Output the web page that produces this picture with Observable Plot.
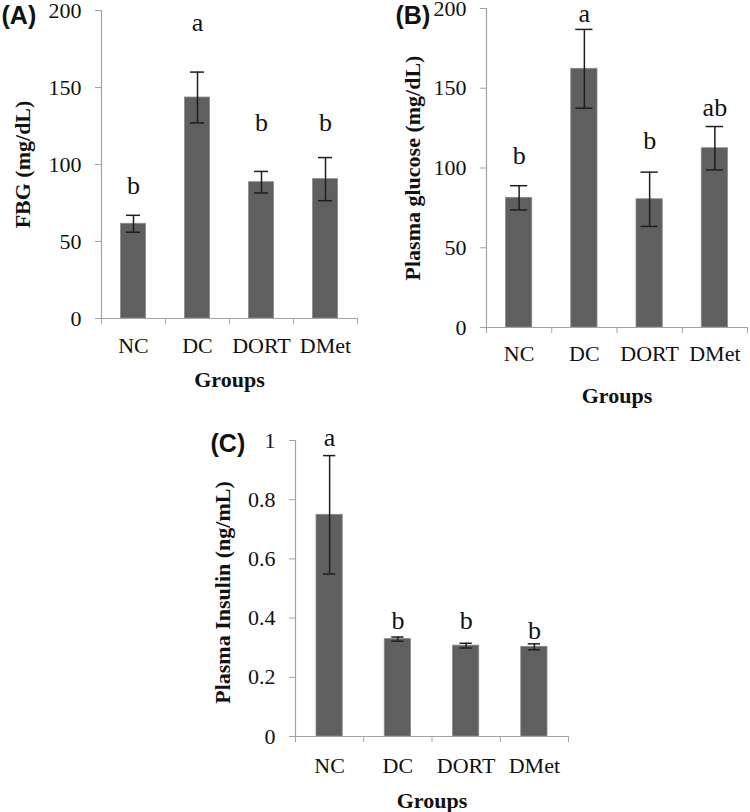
<!DOCTYPE html>
<html><head><meta charset="utf-8">
<script src="https://cdn.jsdelivr.net/npm/d3@7"></script>
<script src="https://cdn.jsdelivr.net/npm/@observablehq/plot@0.6"></script>
<style>
body{margin:0;background:#fff;}
#wrap{position:relative;width:750px;height:812px;overflow:hidden;background:#fff;}
.panel{position:absolute;}
</style></head><body><div id="wrap"></div>
<script>
// ---- data ----
const groups = ["NC", "DC", "DORT", "DMet"];

const fbgMean = [61.5, 143.5, 88.5, 90.5];
const fbgErr = [5.5, 16.5, 7, 14];
const fbgLetters = ["b", "a", "b", "b"];
const fbgLetterY = [86, 192, 127, 127];
const fbgTicks = [0, 50, 100, 150, 200];

const gluMean = [81.3, 162.2, 80.4, 112.4];
const gluErr = [7.6, 24.7, 17, 13.6];
const gluLetters = ["b", "a", "b", "ab"];
const gluLetterY = [108, 197, 117, 138];
const gluTicks = [0, 50, 100, 150, 200];

const insMean = [0.749, 0.329, 0.307, 0.303];
const insErr = [0.2, 0.007, 0.008, 0.01];
const insLetters = ["a", "b", "b", "b"];
const insLetterY = [1.01, 0.392, 0.392, 0.358];
const insTicks = [0, 0.2, 0.4, 0.6, 0.8, 1];

// ---- drawing ----
const serif = "'Liberation Serif','Times New Roman',serif";
const sans = "'Liberation Sans',Arial,sans-serif";
const axisColor = "#a3a3a3";
const barColor = "#5f5f5f";
const errColor = "#1e1e1e";

function panel(o) {
  const data = groups.map((g, i) => ({
    g, i, mean: o.mean[i], lo: o.mean[i] - o.err[i], hi: o.mean[i] + o.err[i],
    letter: o.letters[i], ly: o.letterY[i]
  }));
  const cap = {x1: "i", x2: d => d.i + 1, insetLeft: o.capInset, insetRight: o.capInset, stroke: errColor, strokeWidth: 1.5};
  const chart = Plot.plot({
    width: o.width, height: o.height,
    marginLeft: o.ml, marginTop: o.mt, marginBottom: o.mb, marginRight: o.mr,
    style: {fontFamily: serif, background: "transparent", overflow: "visible", color: "#111"},
    x: {domain: [0, groups.length], axis: null, label: null},
    y: {domain: [0, o.ticks[o.ticks.length - 1]], axis: null, label: null},
    marks: [
      Plot.rectY(data, {x1: "i", x2: d => d.i + 1, y: "mean", insetLeft: o.barInset, insetRight: o.barInset, fill: barColor, stroke: "#8a8a8a", strokeWidth: 0.8}),
      Plot.ruleX(data, {x: d => d.i + 0.5, y1: "lo", y2: "hi", stroke: errColor, strokeWidth: 1.5}),
      Plot.ruleY(data, {y: "lo", ...cap}),
      Plot.ruleY(data, {y: "hi", ...cap}),
      Plot.ruleX([0], {stroke: axisColor, strokeWidth: 1.2}),
      Plot.ruleY([0], {stroke: axisColor, strokeWidth: 1.2}),
      Plot.axisY(o.ticks, {tickSize: 6, tickFormat: () => "", stroke: axisColor, label: null}),
      Plot.axisX(d3.range(groups.length + 1), {tickSize: 6, tickFormat: () => "", stroke: axisColor, label: null}),
      Plot.text(o.ticks, {y: d => d, text: d => String(d), frameAnchor: "left", dx: -20, textAnchor: "end", lineAnchor: "middle", fontSize: 22}),
      Plot.text(data, {x: d => d.i + 0.5, text: "g", frameAnchor: "bottom", dy: o.xlabDy, fontSize: 22, textAnchor: "middle", lineAnchor: "middle"}),
      Plot.text(data, {x: d => d.i + 0.5, y: "ly", text: "letter", fontSize: 26, lineAnchor: "middle"}),
      Plot.text([o.ylabel], {frameAnchor: "left", rotate: -90, dx: o.ylabDx, dy: o.ylabDy, fontWeight: "bold", fontSize: 22, textAnchor: "middle", lineAnchor: "middle"}),
      Plot.text(["Groups"], {frameAnchor: "bottom", dy: o.groupsDy, fontWeight: "bold", fontSize: 22, textAnchor: "middle", lineAnchor: "middle"}),
      Plot.text([o.tag], {frameAnchor: "top-left", dx: o.tagDx, dy: o.tagDy, fontFamily: sans, fontWeight: "bold", fontSize: 25, textAnchor: "start", lineAnchor: "middle"})
    ]
  });
  const div = document.createElement("div");
  div.className = "panel";
  div.style.left = o.left + "px";
  div.style.top = o.top + "px";
  div.appendChild(chart);
  document.getElementById("wrap").appendChild(div);
}

panel({
  mean: fbgMean, err: fbgErr, letters: fbgLetters, letterY: fbgLetterY, ticks: fbgTicks,
  ylabel: "FBG (mg/dL)", tag: "(A)",
  left: 0, top: 0, width: 375, height: 400, ml: 101, mt: 10, mb: 82, mr: 18,
  barInset: 19.5, capInset: 25, xlabDy: 27, groupsDy: 61, ylabDx: -79, ylabDy: 0, tagDx: -100, tagDy: 5
});

panel({
  mean: gluMean, err: gluErr, letters: gluLetters, letterY: gluLetterY, ticks: gluTicks,
  ylabel: "Plasma glucose (mg/dL)", tag: "(B)",
  left: 375, top: 0, width: 375, height: 410, ml: 111, mt: 8, mb: 83, mr: 3,
  barInset: 19.5, capInset: 24, xlabDy: 26, groupsDy: 68, ylabDx: -74, ylabDy: 0, tagDx: -91, tagDy: 7
});

panel({
  mean: insMean, err: insErr, letters: insLetters, letterY: insLetterY, ticks: insTicks,
  ylabel: "Plasma Insulin (ng/mL)", tag: "(C)",
  left: 180, top: 400, width: 420, height: 412, ml: 115, mt: 40, mb: 76, mr: 32,
  barInset: 21, capInset: 28, xlabDy: 29, groupsDy: 64, ylabDx: -73, ylabDy: 4, tagDx: -85, tagDy: 3
});
</script>
</body></html>
